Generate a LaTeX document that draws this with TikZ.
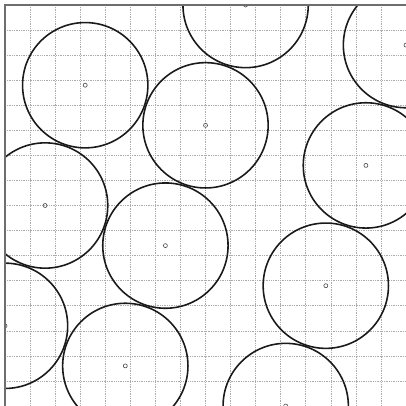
\documentclass[tikz,border=0pt]{standalone}
\usepackage{xcolor}
\definecolor{cDisk}{HTML}{1A1A1A}
\definecolor{cGrid}{HTML}{ABABAB}
\definecolor{cFrame}{HTML}{6E6E6E}
\definecolor{cDot}{HTML}{4A4A4A}
\usepackage{tikz}
\tikzset{
  grid-line/.style={draw=cGrid,line width=0.6pt,dash pattern=on 0.9pt off 1.1pt},
  frame-line/.style={draw=cFrame,line width=2pt},
  disk/.style={draw=cDisk,line width=1.8pt},
  disk-center/.style={draw=cDot,line width=0.7pt},
}

\begin{document}
\begin{tikzpicture}[x=1cm,y=-1cm]
  \useasboundingbox (-0.2,-0.2) rectangle (16,16);
  % grid
  \foreach \k in {1,...,16} {
    \draw[grid-line] (\k,0) -- (\k,16);
    \draw[grid-line] (0,\k) -- (16,\k);
  }
  % disks on a 1.6 lattice (column/row)
  \begin{scope}
    \clip (0,0) rectangle (16.2,16.2);
    \foreach \i/\j in {2/2,5/3,1/5,4/6,9/4,8/7,3/9,6/0,10/1,0/8,7/10} {
      \coordinate (disk-\i-\j) at (1.6*\i,1.6*\j);
      \draw[disk] (disk-\i-\j) circle[radius=2.5];
      \draw[disk-center] (disk-\i-\j) circle[radius=0.08];
    }
  \end{scope}
  % frame, left and top only
  \draw[frame-line] (0,16.2) -- (0,0) -- (16.2,0);
\end{tikzpicture}
\end{document}
